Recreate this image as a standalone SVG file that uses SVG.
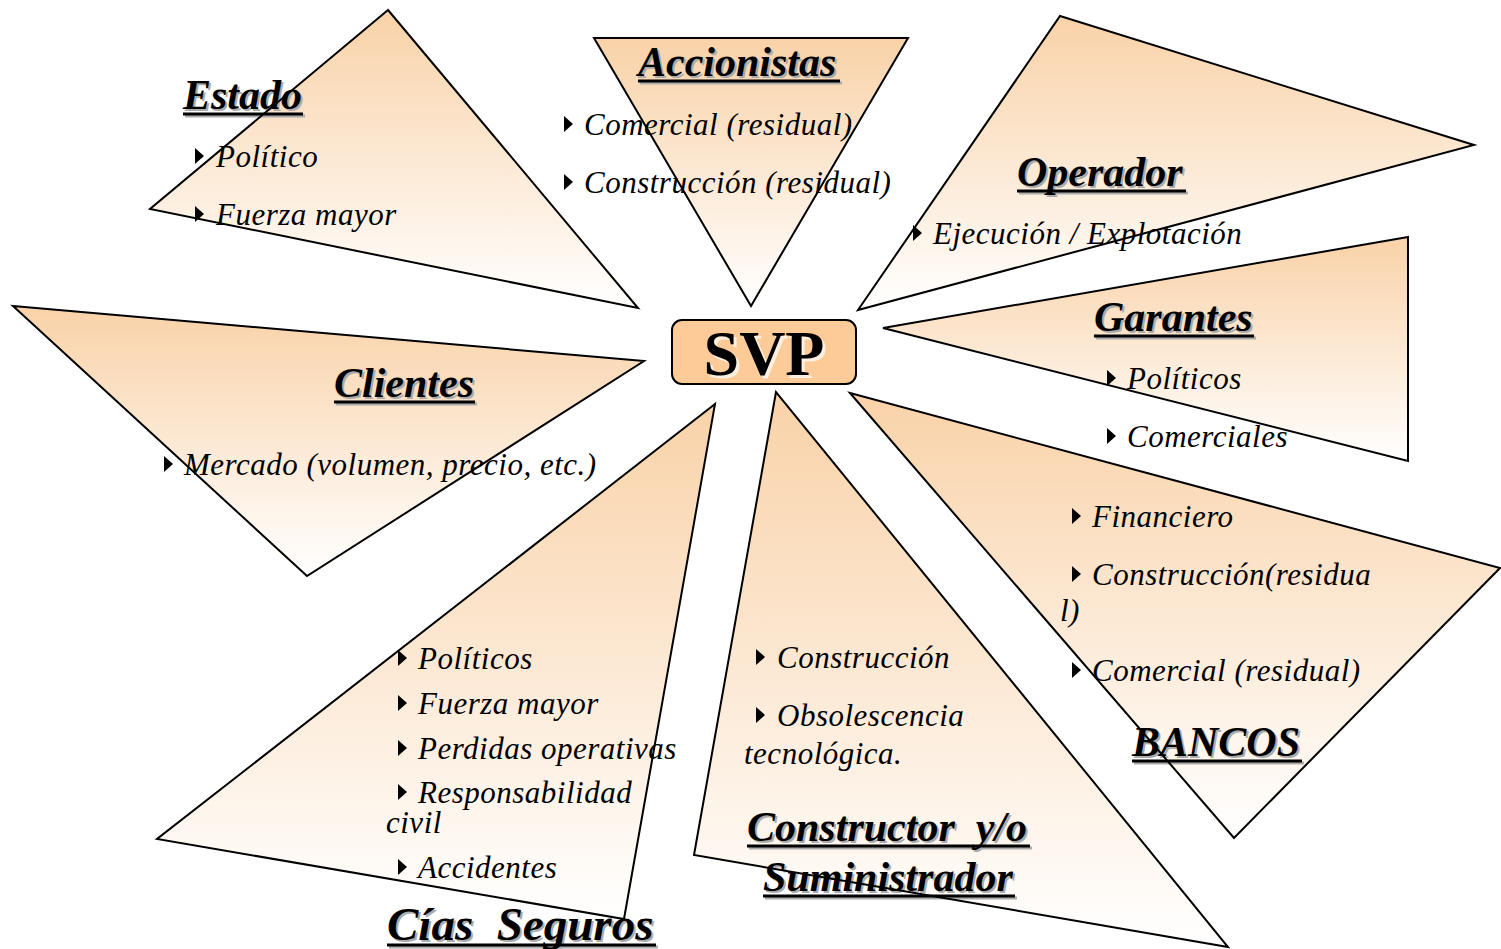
<svg xmlns="http://www.w3.org/2000/svg" xmlns:xlink="http://www.w3.org/1999/xlink" width="1501" height="949" viewBox="0 0 1501 949">
  <style>
    .fill { fill: url(#peach); stroke: none; }
    .edge { fill: none; stroke: #000; stroke-width: 2; stroke-linejoin: miter; }
    .title { font-family: "Liberation Serif", "Times New Roman", serif; font-size: 42px; font-weight: bold; font-style: italic; fill: #000; }
    .big { font-size: 47px; }
    .shadow { fill: #ababab; }
    .item { font-family: "Liberation Serif", "Times New Roman", serif; font-size: 31px; font-style: italic; letter-spacing: 0.5px; fill: #000; }
    .uline { stroke: #000; stroke-width: 3; }
    .uline-s { stroke: #ababab; stroke-width: 3; }
    .bullet { fill: #000; }
  </style>
  <defs>
    <linearGradient id="peach" x1="0" y1="0" x2="0" y2="1">
      <stop offset="0" stop-color="#F9D2A8"/>
      <stop offset="1" stop-color="#FFFFFF"/>
    </linearGradient>
    <polygon id="bul" points="0,-19 0,-3 9,-11"/>
    <polygon id="t-estado" points="388,10 150,209 638,308"/>
    <polygon id="t-accion" points="594,38 908,38 751,306"/>
    <polygon id="t-oper" points="1060,16 1474,145 858,310"/>
    <polygon id="t-gar" points="1408,237 883,328 1408,461"/>
    <polygon id="t-cli" points="13,306 644,361 307,576"/>
    <polygon id="t-cias" points="715,404 157,839 624,919"/>
    <polygon id="t-cons" points="776,392 694,855 1228,947"/>
    <polygon id="t-banc" points="850,393 1500,568 1234,838"/>
  </defs>

  <rect width="1501" height="949" fill="#fff"/>

  <!-- Estado -->
  <g id="estado">
    <use xlink:href="#t-estado" class="fill"/>
    <text class="title shadow" x="185" y="111">Estado</text>
    <line class="uline-s" x1="185" y1="116" x2="305" y2="116"/>
    <text class="title" x="183" y="109">Estado</text>
    <line class="uline" x1="183" y1="114" x2="303" y2="114"/>
    <use xlink:href="#bul" class="bullet" x="195" y="167"/>
    <text class="item" x="216" y="167">Político</text>
    <use xlink:href="#bul" class="bullet" x="195" y="225"/>
    <text class="item" x="216" y="225">Fuerza mayor</text>
    <use xlink:href="#t-estado" class="edge"/>
  </g>

  <!-- Accionistas -->
  <g id="accionistas">
    <use xlink:href="#t-accion" class="fill"/>
    <text class="title shadow" x="640" y="78">Accionistas</text>
    <line class="uline-s" x1="640" y1="83" x2="842" y2="83"/>
    <text class="title" x="638" y="76">Accionistas</text>
    <line class="uline" x1="638" y1="81" x2="840" y2="81"/>
    <use xlink:href="#bul" class="bullet" x="564" y="135"/>
    <text class="item" x="584" y="135">Comercial (residual)</text>
    <use xlink:href="#bul" class="bullet" x="564" y="193"/>
    <text class="item" x="584" y="193">Construcción (residual)</text>
    <use xlink:href="#t-accion" class="edge"/>
  </g>

  <!-- Operador -->
  <g id="operador">
    <use xlink:href="#t-oper" class="fill"/>
    <text class="title shadow" x="1019" y="188">Operador</text>
    <line class="uline-s" x1="1019" y1="193" x2="1188" y2="193"/>
    <text class="title" x="1017" y="186">Operador</text>
    <line class="uline" x1="1017" y1="191" x2="1186" y2="191"/>
    <use xlink:href="#bul" class="bullet" x="913" y="244"/>
    <text class="item" x="933" y="244">Ejecución / Explotación</text>
    <use xlink:href="#t-oper" class="edge"/>
  </g>

  <!-- Garantes -->
  <g id="garantes">
    <use xlink:href="#t-gar" class="fill"/>
    <text class="title shadow" x="1096" y="333">Garantes</text>
    <line class="uline-s" x1="1096" y1="338" x2="1256" y2="338"/>
    <text class="title" x="1094" y="331">Garantes</text>
    <line class="uline" x1="1094" y1="336" x2="1254" y2="336"/>
    <use xlink:href="#bul" class="bullet" x="1107" y="389"/>
    <text class="item" x="1127" y="389">Políticos</text>
    <use xlink:href="#bul" class="bullet" x="1107" y="447"/>
    <text class="item" x="1127" y="447">Comerciales</text>
    <use xlink:href="#t-gar" class="edge"/>
  </g>

  <!-- Clientes -->
  <g id="clientes">
    <use xlink:href="#t-cli" class="fill"/>
    <text class="title shadow" x="336" y="399">Clientes</text>
    <line class="uline-s" x1="336" y1="404" x2="477" y2="404"/>
    <text class="title" x="334" y="397">Clientes</text>
    <line class="uline" x1="334" y1="402" x2="475" y2="402"/>
    <use xlink:href="#bul" class="bullet" x="164" y="475"/>
    <text class="item" x="184" y="475">Mercado (volumen, precio, etc.)</text>
    <use xlink:href="#t-cli" class="edge"/>
  </g>

  <!-- Compañías de seguros -->
  <g id="cias-seguros">
    <use xlink:href="#t-cias" class="fill"/>
    <text class="title big shadow" x="389" y="942" xml:space="preserve">Cías  Seguros</text>
    <line class="uline-s" x1="389" y1="947" x2="658" y2="947"/>
    <text class="title big" x="387" y="940" xml:space="preserve">Cías  Seguros</text>
    <line class="uline" x1="387" y1="945" x2="656" y2="945"/>
    <use xlink:href="#bul" class="bullet" x="398" y="669"/>
    <text class="item" x="418" y="669">Políticos</text>
    <use xlink:href="#bul" class="bullet" x="398" y="714"/>
    <text class="item" x="418" y="714">Fuerza mayor</text>
    <use xlink:href="#bul" class="bullet" x="398" y="759"/>
    <text class="item" x="418" y="759">Perdidas operativas</text>
    <use xlink:href="#bul" class="bullet" x="398" y="803"/>
    <text class="item" x="418" y="803">Responsabilidad</text>
    <text class="item" x="386" y="833">civil</text>
    <use xlink:href="#bul" class="bullet" x="398" y="878"/>
    <text class="item" x="418" y="878">Accidentes</text>
    <use xlink:href="#t-cias" class="edge"/>
  </g>

  <!-- Constructor y/o Suministrador -->
  <g id="constructor">
    <use xlink:href="#t-cons" class="fill"/>
    <text class="title shadow" x="749" y="843" xml:space="preserve">Constructor  y/o</text>
    <line class="uline-s" x1="749" y1="848" x2="1032" y2="848"/>
    <text class="title" x="747" y="841" xml:space="preserve">Constructor  y/o</text>
    <line class="uline" x1="747" y1="846" x2="1030" y2="846"/>
    <text class="title shadow" x="765" y="893">Suministrador</text>
    <line class="uline-s" x1="765" y1="898" x2="1017" y2="898"/>
    <text class="title" x="763" y="891">Suministrador</text>
    <line class="uline" x1="763" y1="896" x2="1015" y2="896"/>
    <use xlink:href="#bul" class="bullet" x="756" y="668"/>
    <text class="item" x="777" y="668">Construcción</text>
    <use xlink:href="#bul" class="bullet" x="756" y="726"/>
    <text class="item" x="777" y="726">Obsolescencia</text>
    <text class="item" x="744" y="764">tecnológica.</text>
    <use xlink:href="#t-cons" class="edge"/>
  </g>

  <!-- Bancos -->
  <g id="bancos">
    <use xlink:href="#t-banc" class="fill"/>
    <text class="title shadow" x="1134" y="758">BANCOS</text>
    <line class="uline-s" x1="1134" y1="763" x2="1304" y2="763"/>
    <text class="title" x="1132" y="756">BANCOS</text>
    <line class="uline" x1="1132" y1="761" x2="1302" y2="761"/>
    <use xlink:href="#bul" class="bullet" x="1072" y="527"/>
    <text class="item" x="1092" y="527">Financiero</text>
    <use xlink:href="#bul" class="bullet" x="1072" y="585"/>
    <text class="item" x="1092" y="585">Construcción(residua</text>
    <text class="item" x="1060" y="621">l)</text>
    <use xlink:href="#bul" class="bullet" x="1072" y="681"/>
    <text class="item" x="1092" y="681">Comercial (residual)</text>
    <use xlink:href="#t-banc" class="edge"/>
  </g>

  <!-- Sociedad vehículo del proyecto -->
  <g id="svp">
    <rect x="672" y="320" width="184" height="64" rx="10" ry="10" fill="#FCCB98" stroke="#000" stroke-width="2"/>
    <text x="767" y="378" text-anchor="middle" font-family="Liberation Serif, Times New Roman, serif" font-size="64" font-weight="bold" fill="#ffffff" fill-opacity="0.7">SVP</text>
    <text x="764" y="375" text-anchor="middle" font-family="Liberation Serif, Times New Roman, serif" font-size="64" font-weight="bold" fill="#000">SVP</text>
  </g>
</svg>
